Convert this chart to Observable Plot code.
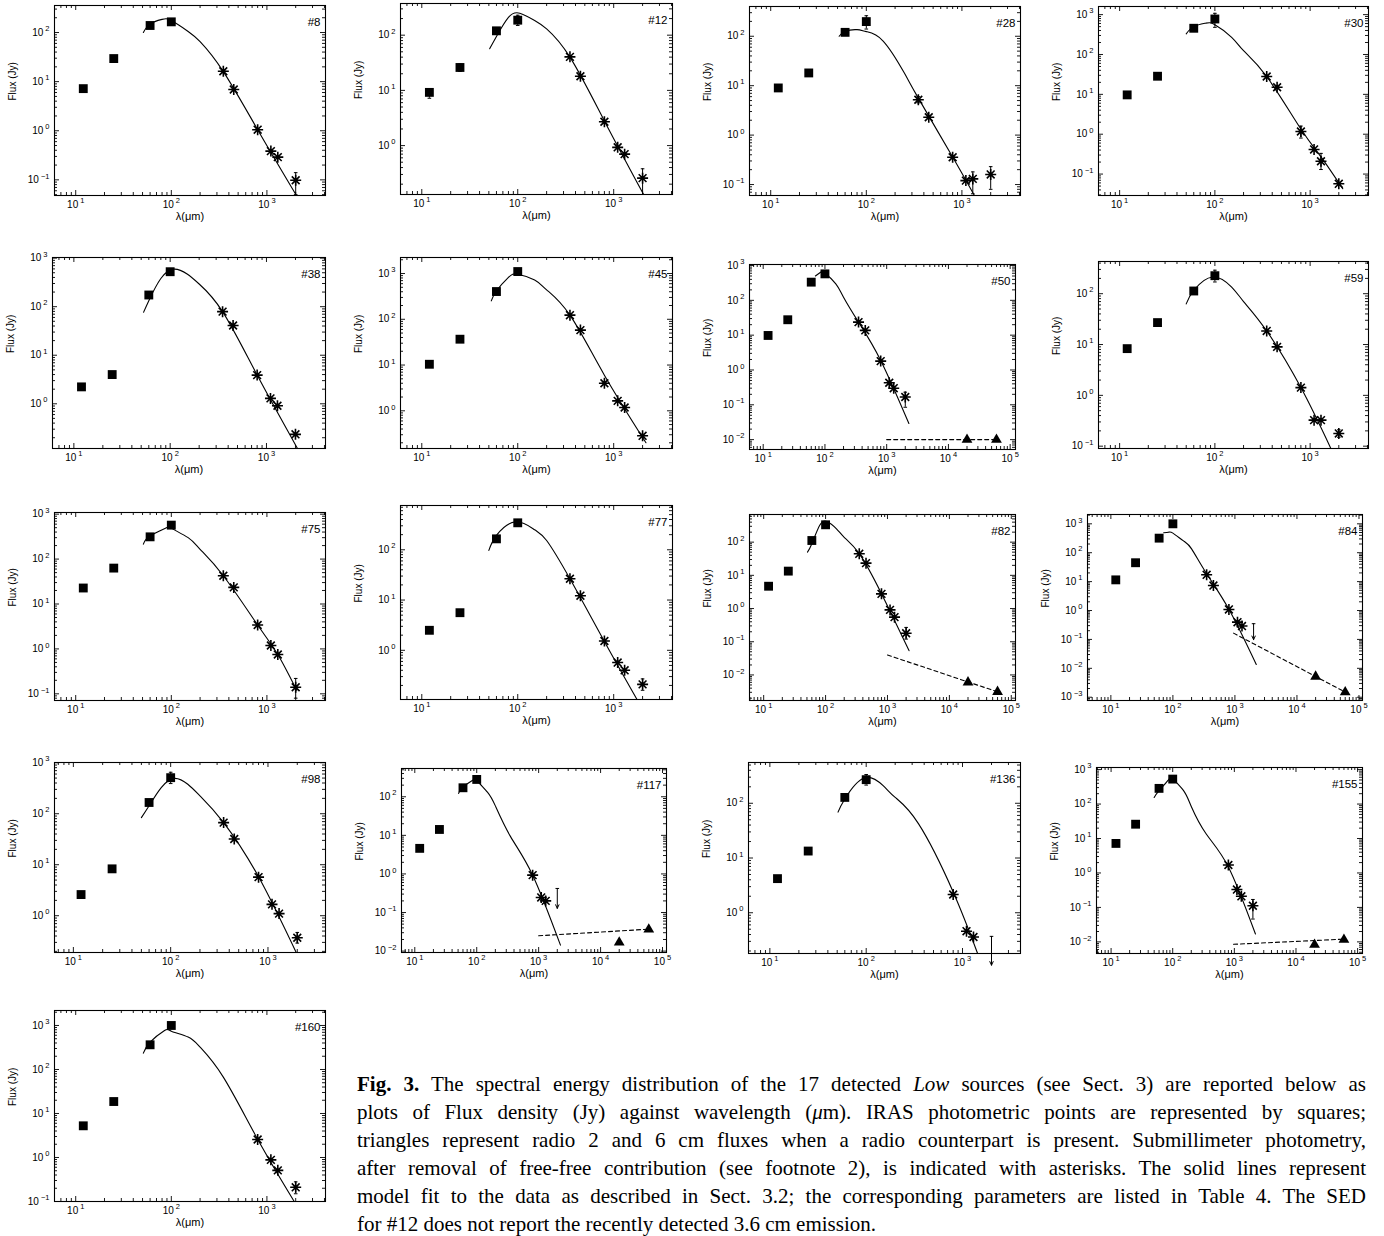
<!DOCTYPE html>
<html><head><meta charset="utf-8">
<script src="https://cdn.jsdelivr.net/npm/d3@7"></script>
<script src="https://cdn.jsdelivr.net/npm/@observablehq/plot@0.6"></script>
<style>
body{margin:0;background:#fff;}
#page{position:relative;width:1384px;height:1236px;overflow:hidden;background:#fff;}
#page svg{position:absolute;overflow:visible;}
#caption{position:absolute;left:357px;top:1070px;width:1009px;font-family:"Liberation Serif","Times New Roman",serif;font-size:21px;line-height:28px;color:#000;}
#caption .j{text-align:justify;text-align-last:justify;}
#caption .last{line-height:20px;margin-top:4px;}
</style></head>
<body><div id="page">
<div id="caption">
<div class="j"><b>Fig. 3.</b> The spectral energy distribution of the 17 detected <i>Low</i> sources (see Sect. 3) are reported below as</div>
<div class="j">plots of Flux density (Jy) against wavelength (<i>μ</i>m). IRAS photometric points are represented by squares;</div>
<div class="j">triangles represent radio 2 and 6 cm fluxes when a radio counterpart is present. Submillimeter photometry,</div>
<div class="j">after removal of free-free contribution (see footnote 2), is indicated with asterisks. The solid lines represent</div>
<div class="j">model fit to the data as described in Sect. 3.2; the corresponding parameters are listed in Table 4. The SED</div>
<div class="last">for #12 does not report the recently detected 3.6 cm emission.</div>
</div>
</div>
<script>
// ---------------- DATA ----------------
const panelIds = ["#8","#12","#28","#30","#38","#45","#50","#59","#75","#77","#82","#84","#98","#117","#136","#155","#160"];
const irasWavelengths = [12, 25, 60, 100];
const submmWavelengths = [350, 450, 800, 1100, 1300, 2000];
const radioWavelengths = [20000, 60000];

const irasFlux = [
  [7.2, 29.5, 139, 165],
  [9.2, 26, 120, 187],
  [9.0, 18.1, 120, 198],
  [9.7, 28.5, 455, 778],
  [2.23, 4.0, 174, 525],
  [10.4, 36.7, 404, 1105],
  [9.8, 27.7, 333, 576],
  [8.3, 27, 113, 226],
  [22.7, 63, 313, 570],
  [2.5, 5.6, 165, 344],
  [4.7, 13.4, 112, 333],
  [11.5, 45, 319, 1000],
  [2.6, 8.3, 166, 509],
  [4.6, 14.2, 171, 281],
  [4.2, 13.4, 128, 270],
  [7.2, 26, 285, 530],
  [5.25, 18.7, 364, 1000]
];
const submmFlux = [
  [16.3, 6.9, 1.05, 0.385, 0.29, 0.098],
  [40.5, 18, 2.7, 0.93, 0.70, 0.257],
  [5.2, 2.3, 0.356, 0.12, 0.13, 0.16],
  [28, 15.1, 1.17, 0.415, 0.21, 0.057],
  [79, 41, 3.9, 1.29, 0.91, 0.235],
  [123, 58, 4.0, 1.65, 1.18, 0.284],
  [23.7, 13.7, 1.8, 0.43, 0.30, 0.168],
  [18.5, 9.0, 1.42, 0.325, 0.325, 0.178],
  [42.6, 23.4, 3.4, 1.19, 0.75, 0.14],
  [26.5, 12.2, 1.53, 0.57, 0.40, 0.21],
  [44.5, 23.3, 2.77, 0.91, 0.55, 0.18],
  [17.2, 7.3, 1.09, 0.395, 0.29, null],
  [67, 32, 5.7, 1.67, 1.1, 0.37],
  [null, null, 0.93, 0.246, 0.20, null],
  [null, null, 2.15, 0.46, 0.36, null],
  [null, null, 1.7, 0.33, 0.21, 0.112],
  [null, null, 2.56, 0.885, 0.51, 0.21]
];
const radioFlux = [null, null, null, null, null, null, [0.01, 0.01], null, null, null,
  [0.006, 0.0031], [0.0052, 0.0015], null, [0.0168, 0.0365], null, [0.0083, 0.0116], null];

// [panel, wavelength, low, high]
const errorBars = [
  ["#8", 2000, 0.05, 0.14],
  ["#12", 12, 7.2, 10.5], ["#12", 25, 22, 30], ["#12", 100, 150, 230], ["#12", 2000, 0.13, 0.38],
  ["#28", 100, 140, 260], ["#28", 350, 4.5, 6.0], ["#28", 1300, 0.065, 0.18], ["#28", 2000, 0.08, 0.23],
  ["#30", 100, 480, 1080], ["#30", 800, 0.8, 1.6], ["#30", 1300, 0.13, 0.33],
  ["#50", 2000, 0.085, 0.23],
  ["#59", 100, 170, 290], ["#59", 2000, 0.15, 0.21],
  ["#75", 2000, 0.08, 0.22],
  ["#77", 2000, 0.16, 0.27],
  ["#82", 2000, 0.12, 0.27],
  ["#98", 100, 390, 650], ["#98", 2000, 0.29, 0.47],
  ["#136", 100, 215, 335],
  ["#155", 2000, 0.046, 0.17],
  ["#160", 2000, 0.15, 0.28]
];
// [panel, wavelength, from, to]
const upperLimits = [["#84", 2000, 0.35, 0.098], ["#117", 2000, 0.42, 0.128], ["#136", 2000, 0.37, 0.11]];
// [panel, w1, f1, w2, f2]
const radioFits = [["#50", 1000, 0.01, 60000, 0.01], ["#82", 1000, 0.04, 60000, 0.0031],
  ["#84", 950, 0.165, 60000, 0.0015], ["#117", 1000, 0.025, 60000, 0.037], ["#155", 970, 0.0085, 60000, 0.012]];

const modelCurves = [
  [[51,100],[60,150],[80,185],[100,175],[150,105],[200,65],[350,16],[800,1.05],[2000,0.051]],
  [[51,57],[60,95],[80,210],[105,250],[150,185],[200,130],[350,40],[800,2.8],[2040,0.132]],
  [[52,100],[60,126],[80,136],[100,124],[150,80],[250,18],[350,5.6],[800,0.36],[1350,0.06]],
  [[50,330],[60,500],[80,610],[100,560],[150,270],[200,125],[350,28],[800,1.35],[1300,0.27],[2200,0.043]],
  [[53,77],[60,133],[80,380],[110,594],[150,470],[200,293],[350,79],[800,3.9],[2100,0.12]],
  [[53,253],[60,417],[80,820],[100,967],[150,720],[200,440],[350,123],[800,6],[2170,0.2]],
  [[70,500],[85,640],[100,600],[150,298],[200,123],[350,23.7],[800,1.88],[2290,0.029]],
  [[50,63],[60,116],[95,213],[150,135],[200,70],[350,18.5],[800,1.42],[1650,0.09]],
  [[51,215],[60,330],[90,506],[100,489],[150,300],[200,165],[350,42.6],[800,3.4],[1300,0.75],[2050,0.12]],
  [[50,97],[60,193],[95,360],[150,250],[200,153],[350,26.5],[800,1.5],[1750,0.105]],
  [[51,50],[60,89],[80,316],[105,420],[150,252],[200,140],[350,45],[800,2.8],[2230,0.054]],
  [[71,490],[85,510],[100,475],[150,251],[200,136],[350,18.7],[800,1.1],[2210,0.0135]],
  [[50,84],[60,143],[80,326],[110,494],[150,378],[200,224],[350,67],[800,5.8],[1950,0.19]],
  [[51,122],[60,181],[90,281],[100,270],[150,130],[200,58],[350,9.4],[800,0.93],[2250,0.0143]],
  [[51,69],[60,120],[95,290],[150,210],[200,128],[350,42],[800,2.4],[1435,0.18]],
  [[50,155],[60,244],[90,567],[100,556],[150,244],[200,85],[350,13.5],[800,1.5],[2200,0.017]],
  [[51,235],[60,418],[85,770],[100,743],[150,544],[200,322],[350,67],[800,2.6],[1930,0.1]]
];

const xDomains = [
  [6,4100],[6,4100],[6,4100],[6,4100],
  [6,4100],[6,4100],[6,1.22e5],[6,4100],
  [6,4100],[6,4100],[5.9,1.17e5],[4.2,1.14e5],
  [6.4,3900],[6.1,1.16e5],[6,4000],[5.8,1.2e5],
  [6,4100]
];
const yDomains = [
  [0.048,355],[0.13,375],[0.06,400],[0.029,1600],
  [0.12,1030],[0.15,2240],[0.0052,1070],[0.09,430],
  [0.071,1090],[0.105,760],[0.0017,680],[0.00077,2100],
  [0.19,1010],[0.0092,540],[0.18,556],[0.0046,1150],
  [0.1,2190]
];

// ---------------- LAYOUT (frame box of each panel on the page) ----------------
const frames = [
  [54,325,5,195],[400,672,3,194],[749,1020,6,195],[1098,1368,6,195],
  [52,325,257,448],[400,672,257,448],[749,1015,264,449],[1098,1368,261,448],
  [54,325,512,700],[400,672,505,699],[749,1015,514,700],[1087,1362,514,700],
  [54,325,762,952],[401,666,768,952],[748,1020,762,953],[1096,1362,767,953],
  [54,325,1010,1201]
];

// ---------------- RENDER ----------------
const starSymbol = {draw(ctx, size) {
  const r = Math.sqrt(size / Math.PI), a = r * Math.SQRT1_2;
  ctx.moveTo(-r, 0); ctx.lineTo(r, 0); ctx.moveTo(0, -r); ctx.lineTo(0, r);
  ctx.moveTo(-a, -a); ctx.lineTo(a, a); ctx.moveTo(-a, a); ctx.lineTo(a, -a);
}};
const capSymbol = {draw(ctx, size) {
  const r = Math.sqrt(size / Math.PI);
  ctx.moveTo(-r, 0); ctx.lineTo(r, 0);
}};

function logTicks([lo, hi]) {
  const major = [], minor = [];
  for (let e = Math.floor(Math.log10(lo)); e <= Math.ceil(Math.log10(hi)); e++) {
    for (let m = 1; m <= 9; m++) {
      const v = m * Math.pow(10, e);
      if (v < lo * 0.9999 || v > hi * 1.0001) continue;
      (m === 1 ? major : minor).push(v);
    }
  }
  return {major, minor};
}
const expFormat = d => "10^" + Math.round(Math.log10(d));

function supLabels(svg) {
  svg.querySelectorAll('g[aria-label$="tick label"] text').forEach(t => {
    const s = t.textContent, k = s.indexOf("^");
    if (k < 0) return;
    t.textContent = s.slice(0, k);
    const ts = document.createElementNS("http://www.w3.org/2000/svg", "tspan");
    ts.setAttribute("dy", "-4.5");
    ts.setAttribute("dx", "2");
    ts.setAttribute("font-size", "7.5");
    ts.textContent = s.slice(k + 1).replace("-", "\u2212");
    t.appendChild(ts);
  });
}

const page = document.getElementById("page");
const mL = 64, mR = 16, mT = 10, mB = 42;

panelIds.forEach((id, i) => {
  const [L, R, T, B] = frames[i];
  const fw = R - L, fh = B - T;
  const xt = logTicks(xDomains[i]), yt = logTicks(yDomains[i]);
  const iras = irasWavelengths.map((w, k) => ({w, f: irasFlux[i][k]}));
  const sub = submmWavelengths.map((w, k) => ({w, f: submmFlux[i][k]})).filter(d => d.f != null);
  const radio = radioFlux[i] ? radioWavelengths.map((w, k) => ({w, f: radioFlux[i][k]})) : [];
  const errs = errorBars.filter(e => e[0] === id).map(([, w, lo, hi]) => ({w, lo, hi}));
  const caps = errs.flatMap(e => [{w: e.w, f: e.lo}, {w: e.w, f: e.hi}]);
  const uls = upperLimits.filter(e => e[0] === id).map(([, w, a, b]) => ({w, a, b}));
  const fit = radioFits.filter(e => e[0] === id).flatMap(([, w1, f1, w2, f2]) => [{w: w1, f: f1}, {w: w2, f: f2}]);
  const model = modelCurves[i].map(([w, f]) => ({w, f}));

  const tickMarks = [];
  [[xt.major, 5], [xt.minor, 3]].forEach(([v, len]) => {
    tickMarks.push(Plot.ruleX(v, {insetTop: fh - len, stroke: "black", strokeWidth: 0.9}));
    tickMarks.push(Plot.ruleX(v, {insetBottom: fh - len, stroke: "black", strokeWidth: 0.9}));
  });
  [[yt.major, 5], [yt.minor, 3]].forEach(([v, len]) => {
    tickMarks.push(Plot.ruleY(v, {insetRight: fw - len, stroke: "black", strokeWidth: 0.9}));
    tickMarks.push(Plot.ruleY(v, {insetLeft: fw - len, stroke: "black", strokeWidth: 0.9}));
  });

  const svg = Plot.plot({
    width: fw + mL + mR, height: fh + mT + mB,
    marginLeft: mL, marginRight: mR, marginTop: mT, marginBottom: mB,
    x: {type: "log", domain: xDomains[i]},
    y: {type: "log", domain: yDomains[i]},
    style: {fontFamily: "'Liberation Sans', Arial, sans-serif", fontSize: "10px", color: "black", background: "transparent"},
    marks: [
      ...tickMarks,
      Plot.frame({stroke: "black", strokeWidth: 1.1}),
      Plot.axisX({ticks: xt.major, tickSize: 0, tickPadding: 5, tickFormat: expFormat, label: null, fontSize: 10}),
      Plot.axisY({ticks: yt.major, tickSize: 0, tickPadding: 5, tickFormat: expFormat, label: null, fontSize: 10}),
      Plot.text(["λ(μm)"], {frameAnchor: "bottom", dy: 24, fontSize: 11}),
      Plot.text(["Flux (Jy)"], {frameAnchor: "left", dx: -42, rotate: -90, fontSize: 10}),
      Plot.text([id], {frameAnchor: "top-right", dx: -5, dy: 12, textAnchor: "end", fontSize: 11.5}),
      Plot.line(model, {x: "w", y: "f", curve: "natural", stroke: "black", strokeWidth: 1.1}),
      Plot.line(fit, {x: "w", y: "f", stroke: "black", strokeWidth: 1.1, strokeDasharray: "4,3"}),
      Plot.ruleX(errs, {x: "w", y1: "lo", y2: "hi", stroke: "black", strokeWidth: 1}),
      Plot.dot(caps, {x: "w", y: "f", symbol: capSymbol, r: 1.8, stroke: "black", strokeWidth: 1}),
      Plot.arrow(uls, {x1: "w", y1: "a", x2: "w", y2: "b", stroke: "black", strokeWidth: 1, headLength: 6, headAngle: 50}),
      Plot.dot(uls, {x: "w", y: "a", symbol: capSymbol, r: 1.8, stroke: "black", strokeWidth: 1}),
      Plot.dot(iras, {x: "w", y: "f", symbol: "square", r: 5, fill: "black", stroke: "none"}),
      Plot.dot(sub, {x: "w", y: "f", symbol: starSymbol, r: 5.5, stroke: "black", strokeWidth: 1.6, fill: "none"}),
      Plot.dot(radio, {x: "w", y: "f", symbol: "triangle", r: 4, fill: "black", stroke: "none"})
    ]
  });
  supLabels(svg);
  svg.style.left = (L - mL) + "px";
  svg.style.top = (T - mT) + "px";
  page.appendChild(svg);
});
</script>
</body></html>
